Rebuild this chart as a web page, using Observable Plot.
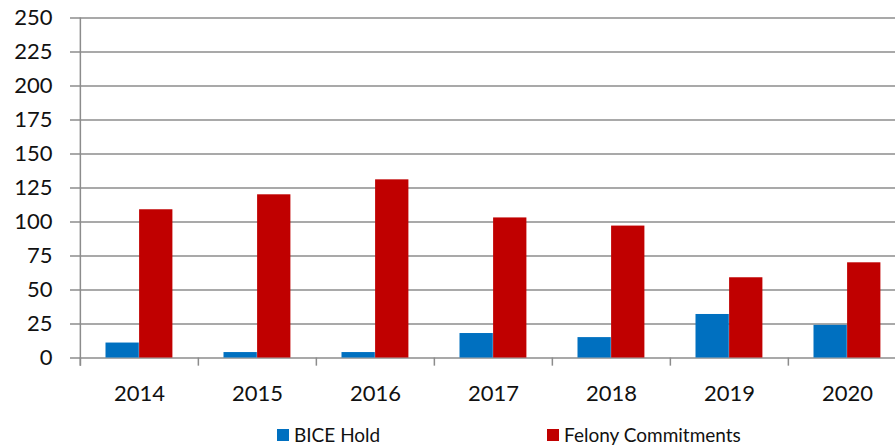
<!DOCTYPE html>
<html>
<head>
<meta charset="utf-8">
<script src="https://cdn.jsdelivr.net/npm/d3@7"></script>
<script src="https://cdn.jsdelivr.net/npm/@observablehq/plot@0.6"></script>
<style>
  html, body { margin: 0; padding: 0; background: #fff; }
  #wrap { position: relative; width: 895px; height: 447px; overflow: hidden; font-family: Lato, "Open Sans", sans-serif; }
  #wrap svg { display: block; overflow: visible; }
  .legend { position: absolute; left: 0; top: 418px; width: 895px; height: 29px; font-size: 19px; color: #111; }
  .item { position: absolute; top: 10px; display: flex; align-items: center; line-height: 14px; }
  .sw { width: 12px; height: 12px; margin-right: 5px; }
</style>
</head>
<body>
<div id="wrap"></div>
<script>
// ---- data ----
const years = ["2014", "2015", "2016", "2017", "2018", "2019", "2020"];
const biceHold = [11, 4, 4, 18, 15, 32, 24];
const felonyCommitments = [109, 120, 131, 103, 97, 59, 70];
const seriesNames = ["BICE Hold", "Felony Commitments"];
const seriesColors = ["#0070C0", "#C00000"];
const yTicks = [0, 25, 50, 75, 100, 125, 150, 175, 200, 225, 250];

const rows = years.map((year, i) => ({year, bice: biceHold[i], felony: felonyCommitments[i]}));

const gridColor = "#8c8c8c";
const textColor = "#111";

const chart = Plot.plot({
  width: 895,
  height: 418,
  marginLeft: 79,
  marginRight: -12,
  marginTop: 17.5,
  marginBottom: 60.5,
  style: {background: "transparent", fontFamily: "Lato, 'Open Sans', sans-serif", overflow: "visible"},
  x: {type: "band", domain: years, padding: 0, axis: null},
  y: {domain: [0, 250], axis: null},
  marks: [
    // horizontal gridlines (extend left as tick marks)
    Plot.ruleY(yTicks, {y: d => d, stroke: gridColor, strokeWidth: 1.5, insetLeft: -9}),
    // y-axis line
    Plot.ruleX([years[0]], {x: d => d, y1: -6, y2: 250, stroke: gridColor, strokeWidth: 1.5, dx: -59.14}),
    // category boundary ticks
    Plot.ruleX(years, {x: d => d, y1: -6, y2: 0, stroke: gridColor, strokeWidth: 1.5, dx: -59.14}),
    // bars
    Plot.barY(rows, {x: "year", y: "bice", fill: seriesColors[0], insetLeft: 25.5, insetRight: 59.2}),
    Plot.barY(rows, {x: "year", y: "felony", fill: seriesColors[1], insetLeft: 59.1, insetRight: 25.6}),
    // y tick labels
    Plot.text(yTicks, {y: d => d, text: d => String(d), frameAnchor: "left", dx: -27, textAnchor: "end", fontSize: 22, fill: textColor}),
    // x tick labels
    Plot.text(years, {x: d => d, y: 0, text: d => d, dy: 36, fontSize: 22, fill: textColor})
  ]
});

const wrap = document.getElementById("wrap");
wrap.appendChild(chart);

// legend
const legend = document.createElement("div");
legend.className = "legend";
const legendLeft = [277, 547];
seriesNames.forEach((name, i) => {
  const item = document.createElement("div");
  item.className = "item";
  item.style.left = legendLeft[i] + "px";
  const sw = document.createElement("span");
  sw.className = "sw";
  sw.style.background = seriesColors[i];
  const label = document.createElement("span");
  label.textContent = name;
  item.appendChild(sw);
  item.appendChild(label);
  legend.appendChild(item);
});
wrap.appendChild(legend);
</script>
</body>
</html>
